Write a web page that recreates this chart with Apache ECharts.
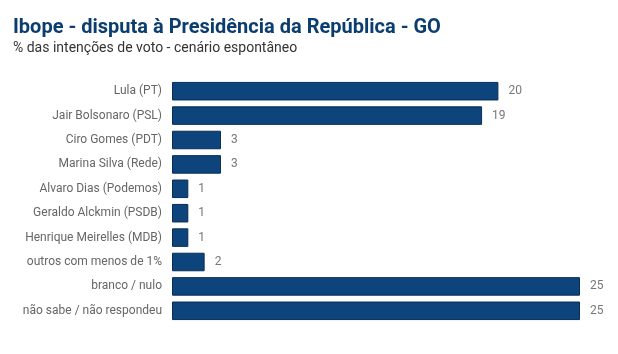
<!DOCTYPE html>
<html><head><meta charset="utf-8">
<script src="https://cdn.jsdelivr.net/npm/echarts@6/dist/echarts.min.js"></script>
<style>html,body{margin:0;padding:0;background:#fff}#c{width:618px;height:354px}</style>
</head><body><div id="c"></div>
<script>
const categories = ["Lula (PT)","Jair Bolsonaro (PSL)","Ciro Gomes (PDT)","Marina Silva (Rede)","Alvaro Dias (Podemos)","Geraldo Alckmin (PSDB)","Henrique Meirelles (MDB)","outros com menos de 1%","branco / nulo","não sabe / não respondeu"];
const values = [20,19,3,3,1,1,1,2,25,25];
const titleText = "Ibope - disputa à Presidência da República - GO";
const subtitleText = "% das intenções de voto - cenário espontâneo";

const chart = echarts.init(document.getElementById('c'), null, {renderer:'canvas'});
chart.setOption({
  animation:false,
  backgroundColor:'#fff',
  title:{
    text:titleText, subtext:subtitleText, left:8, top:13, itemGap:3,
    textStyle:{fontFamily:'Roboto', fontSize:20, fontWeight:'bold', color:'#0b3d6f'},
    subtextStyle:{fontFamily:'Roboto', fontSize:14, color:'#333'}
  },
  grid:{left:172, right:38, top:79, bottom:31, containLabel:false},
  xAxis:{type:'value', min:0, max:25, show:false},
  yAxis:{type:'category', data:categories, inverse:true,
    axisLine:{show:false}, axisTick:{show:false}, splitLine:{show:false},
    axisLabel:{fontFamily:'Roboto', fontSize:12, color:'#666', margin:10}
  },
  series:[{type:'bar', data:values, barCategoryGap:'24%',
    itemStyle:{color:'#0d447b', borderColor:'#082d57', borderWidth:1},
    label:{show:true, position:'right', distance:10, fontFamily:'Roboto', fontSize:12, color:'#777'}
  }]
});
</script></body></html>
